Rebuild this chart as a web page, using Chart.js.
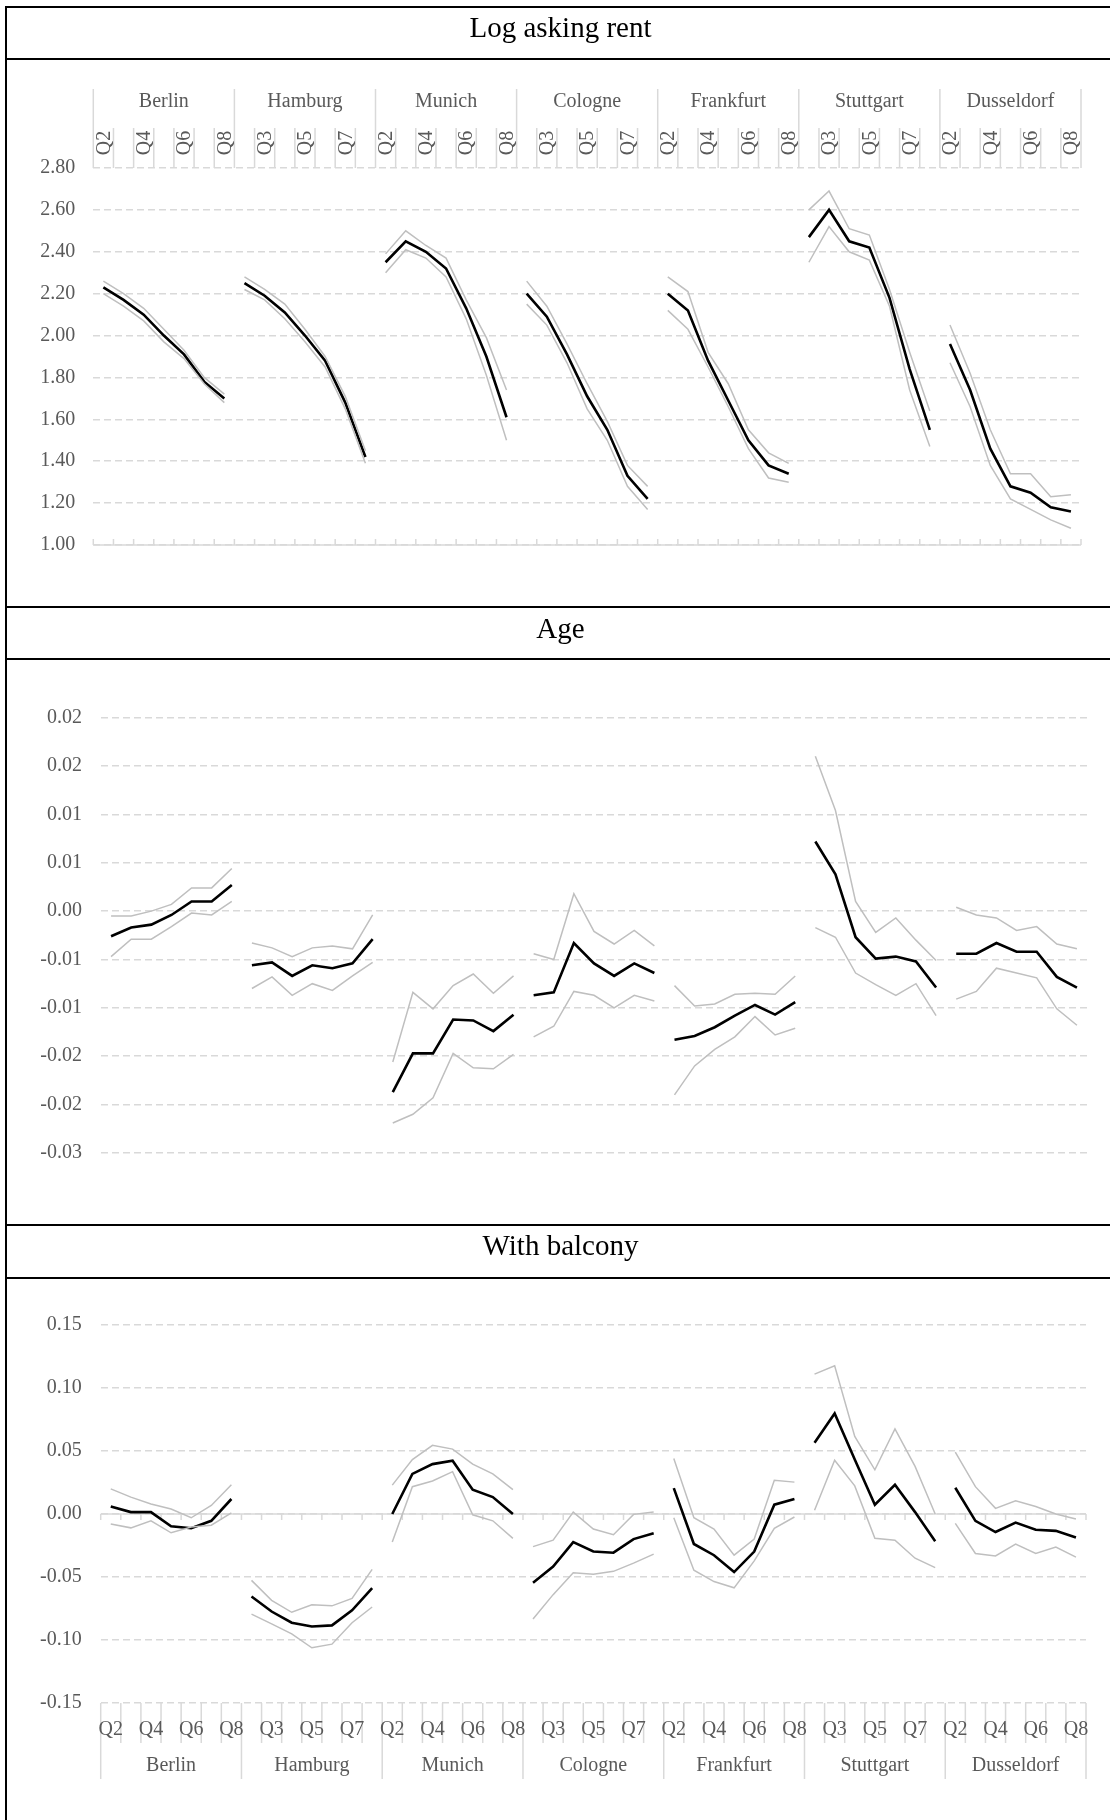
<!DOCTYPE html>
<html lang="en">
  <head>
    <meta charset="UTF-8" />
    <title>Log asking rent, Age, With balcony</title>
    <script src="https://cdn.jsdelivr.net/npm/chart.js"></script>
    <style>
      body{margin:0;background:#fff;font-family:'Liberation Serif',serif}
      #page{position:relative;width:1110px;height:1820px;overflow:hidden}
      canvas{position:absolute;left:0}
      .hline{position:absolute;left:5px;width:1105px;height:2px;background:#000}
      .vline{position:absolute;left:5px;top:6px;width:2px;height:1814px;background:#000}
      .title{position:absolute;left:6px;width:1109px;text-align:center;font-size:29px;color:#000;line-height:34px}
    </style>
  </head>
  <body>
    <div id="page">
      <canvas id="rentChart" width="1110" height="546" style="top:60px"></canvas>
      <canvas id="ageChart" width="1110" height="564" style="top:660px"></canvas>
      <canvas id="balcChart" width="1110" height="541" style="top:1279px"></canvas>

      <!-- table frame -->
      <div class="vline"></div>
      <div class="hline" style="top:6px"></div>
      <div class="hline" style="top:58px"></div>
      <div class="hline" style="top:606px"></div>
      <div class="hline" style="top:658px"></div>
      <div class="hline" style="top:1224px"></div>
      <div class="hline" style="top:1277px"></div>
      <div class="title" style="top:10px">Log asking rent</div>
      <div class="title" style="top:611px">Age</div>
      <div class="title" style="top:1228px">With balcony</div>
    </div>

    <script>
      const cities = ['Berlin', 'Hamburg', 'Munich', 'Cologne', 'Frankfurt', 'Stuttgart', 'Dusseldorf'];
      const quarters = ['Q2', 'Q3', 'Q4', 'Q5', 'Q6', 'Q7', 'Q8'];

      // Log asking rent (estimate, upper, lower) - 7 quarters per city
      const rentMid = [
        2.23, 2.17, 2.10, 2.00, 1.91, 1.78, 1.70,
        2.25, 2.19, 2.11, 2.00, 1.88, 1.68, 1.42,
        2.35, 2.45, 2.40, 2.32, 2.13, 1.90, 1.61,
        2.20, 2.09, 1.91, 1.71, 1.55, 1.33, 1.22,
        2.20, 2.12, 1.88, 1.69, 1.50, 1.38, 1.34,
        2.47, 2.60, 2.45, 2.42, 2.18, 1.84, 1.55,
        1.96, 1.74, 1.46, 1.28, 1.25, 1.18, 1.16
      ];
      const rentHi = [
        2.26, 2.20, 2.13, 2.03, 1.93, 1.80, 1.72,
        2.28, 2.22, 2.15, 2.03, 1.90, 1.71, 1.45,
        2.39, 2.50, 2.43, 2.37, 2.17, 1.99, 1.74,
        2.26, 2.14, 1.96, 1.77, 1.59, 1.38, 1.28,
        2.28, 2.21, 1.92, 1.77, 1.55, 1.44, 1.39,
        2.60, 2.69, 2.51, 2.48, 2.22, 1.92, 1.64,
        2.05, 1.82, 1.55, 1.34, 1.34, 1.23, 1.24
      ];
      const rentLo = [
        2.20, 2.14, 2.07, 1.97, 1.89, 1.77, 1.68,
        2.22, 2.17, 2.08, 1.97, 1.85, 1.65, 1.39,
        2.30, 2.41, 2.37, 2.28, 2.08, 1.81, 1.50,
        2.15, 2.05, 1.87, 1.65, 1.50, 1.28, 1.17,
        2.12, 2.03, 1.85, 1.66, 1.46, 1.32, 1.30,
        2.35, 2.52, 2.40, 2.36, 2.14, 1.74, 1.47,
        1.87, 1.66, 1.38, 1.22, 1.17, 1.12, 1.08
      ];

      // Age
      const ageMid = [
        -0.0026, -0.0017, -0.0014, -0.0004, 0.0010, 0.0010, 0.0027,
        -0.0056, -0.0053, -0.0067, -0.0056, -0.0059, -0.0054, -0.0029,
        -0.0187, -0.0147, -0.0147, -0.0112, -0.0113, -0.0124, -0.0107,
        -0.0087, -0.0084, -0.0033, -0.0054, -0.0067, -0.0054, -0.0064,
        -0.0133, -0.0129, -0.0120, -0.0108, -0.0097, -0.0107, -0.0094,
        0.0072, 0.0038, -0.0027, -0.0049, -0.0047, -0.0052, -0.0079,
        -0.0044, -0.0044, -0.0033, -0.0042, -0.0042, -0.0068, -0.0079
      ];
      const ageHi = [
        -0.0005, -0.0005, 0.0000, 0.0007, 0.0024, 0.0024, 0.0044,
        -0.0033, -0.0038, -0.0047, -0.0038, -0.0036, -0.0039, -0.0004,
        -0.0156, -0.0084, -0.0101, -0.0077, -0.0065, -0.0085, -0.0067,
        -0.0044, -0.0050, 0.0018, -0.0021, -0.0034, -0.0020, -0.0036,
        -0.0077, -0.0098, -0.0096, -0.0086, -0.0085, -0.0086, -0.0067,
        0.0160, 0.0104, 0.0010, -0.0022, -0.0007, -0.0030, -0.0051,
        0.0004, -0.0004, -0.0007, -0.0020, -0.0016, -0.0034, -0.0039
      ];
      const ageLo = [
        -0.0047, -0.0029, -0.0029, -0.0016, -0.0002, -0.0004, 0.0010,
        -0.0080, -0.0068, -0.0087, -0.0075, -0.0082, -0.0067, -0.0053,
        -0.0219, -0.0210, -0.0193, -0.0147, -0.0162, -0.0163, -0.0148,
        -0.0130, -0.0119, -0.0083, -0.0087, -0.0100, -0.0087, -0.0093,
        -0.0190, -0.0160, -0.0143, -0.0130, -0.0109, -0.0128, -0.0121,
        -0.0017, -0.0027, -0.0064, -0.0076, -0.0087, -0.0075, -0.0108,
        -0.0091, -0.0083, -0.0059, -0.0064, -0.0069, -0.0101, -0.0118
      ];

      // With balcony
      const balcMid = [
        0.0060, 0.0015, 0.0015, -0.0098, -0.0113, -0.0054, 0.0119,
        -0.0655, -0.0774, -0.0863, -0.0893, -0.0884, -0.0765, -0.0589,
        0.0000, 0.0318, 0.0396, 0.0423, 0.0193, 0.0134, 0.0000,
        -0.0545, -0.0417, -0.0223, -0.0298, -0.0307, -0.0199, -0.0152,
        0.0205, -0.0238, -0.0327, -0.0461, -0.0298, 0.0074, 0.0119,
        0.0565, 0.0798, 0.0432, 0.0074, 0.0232, 0.0015, -0.0217,
        0.0208, -0.0054, -0.0143, -0.0068, -0.0125, -0.0134, -0.0187
      ];
      const balcHi = [
        0.0199, 0.0134, 0.0080, 0.0039, -0.0030, 0.0068, 0.0232,
        -0.0527, -0.0685, -0.0780, -0.0720, -0.0729, -0.0670, -0.0440,
        0.0229, 0.0432, 0.0545, 0.0515, 0.0396, 0.0318, 0.0193,
        -0.0259, -0.0208, 0.0015, -0.0119, -0.0164, -0.0003, 0.0015,
        0.0440, -0.0030, -0.0119, -0.0327, -0.0199, 0.0268, 0.0253,
        0.1110, 0.1176, 0.0616, 0.0351, 0.0676, 0.0378, 0.0000,
        0.0491, 0.0217, 0.0045, 0.0104, 0.0060, 0.0000, -0.0039
      ];
      const balcLo = [
        -0.0080, -0.0110, -0.0054, -0.0149, -0.0104, -0.0089, 0.0009,
        -0.0795, -0.0872, -0.0952, -0.1062, -0.1033, -0.0863, -0.0738,
        -0.0223, 0.0217, 0.0262, 0.0336, -0.0006, -0.0054, -0.0193,
        -0.0833, -0.0640, -0.0467, -0.0479, -0.0455, -0.0390, -0.0318,
        -0.0030, -0.0446, -0.0536, -0.0586, -0.0372, -0.0113, -0.0024,
        0.0030, 0.0426, 0.0223, -0.0193, -0.0208, -0.0351, -0.0426,
        -0.0074, -0.0313, -0.0333, -0.0238, -0.0313, -0.0262, -0.0342
      ];

      const labels = cities.flatMap(() => quarters);
      const GRID = '#D9D9D9', TXT = '#595959', FONT = 'Liberation Serif';

      // excel style rounding: 0.015 -> 0.02, -0.005 -> -0.01
      const fmt2 = v => {
        const a = Math.round(Math.abs(v) * 100 + 1e-6) / 100;
        return (v < 0 && a > 0 ? '-' : '') + a.toFixed(2);
      };

      // draws the category axis line, the quarter / city label boxes
      const groupAxis = {
        id: 'groupAxis',
        beforeDatasetsDraw(chart, args, o) {
          const { ctx } = chart, xs = chart.scales.x, ys = chart.scales.y;
          const w = xs.getPixelForValue(1) - xs.getPixelForValue(0);
          const edge = k => xs.getPixelForValue(0) - w / 2 + k * w;
          const line = (x1, y1, x2, y2) => { ctx.beginPath(); ctx.moveTo(x1, y1); ctx.lineTo(x2, y2); ctx.stroke(); };
          ctx.save();
          ctx.strokeStyle = GRID;
          ctx.lineWidth = 1.5;
          if (o.axisAt !== undefined) {
            const y = ys.getPixelForValue(o.axisAt);
            line(edge(0), y, edge(labels.length), y);
            for (let k = 0; k <= labels.length; k++) line(edge(k), y, edge(k), y + o.tickDir * 6);
          }
          if (o.side) {
            const top = o.side === 'top';
            const y0 = top ? ys.top : ys.bottom, dir = top ? -1 : 1;
            for (let k = 0; k <= labels.length; k++) {
              line(edge(k), y0, edge(k), y0 + dir * (k % 7 === 0 ? o.groupLen : o.boxLen));
            }
            ctx.fillStyle = TXT;
            ctx.font = '20px "' + FONT + '"';
            ctx.textAlign = 'center';
            ctx.textBaseline = 'middle';
            labels.forEach((q, i) => {
              if (i % 2) return;
              const x = xs.getPixelForValue(i);
              if (top) {
                ctx.save();
                ctx.translate(x + 1, y0 - o.qOff);
                ctx.rotate(-Math.PI / 2);
                ctx.fillText(q, 0, 0);
                ctx.restore();
              } else {
                ctx.fillText(q, x, y0 + o.qOff);
              }
            });
            cities.forEach((c, g) => ctx.fillText(c, (edge(g * 7) + edge(g * 7 + 7)) / 2, y0 + dir * o.cityOff));
          }
          ctx.restore();
        }
      };

      const gap = ctx => ctx.p0DataIndex % 7 === 6 ? 'rgba(0,0,0,0)' : undefined;
      const sets = (hi, lo, mid) => [
        { data: hi, borderColor: '#BFBFBF', borderWidth: 1.5 },
        { data: lo, borderColor: '#BFBFBF', borderWidth: 1.5 },
        { data: mid, borderColor: '#000000', borderWidth: 2.6 }
      ].map(d => ({ ...d, pointRadius: 0, tension: 0, fill: false, segment: { borderColor: gap } }));

      function makeChart(id, hi, lo, mid, y, pad, axisW, ticksPad, groupOpts) {
        return new Chart(document.getElementById(id), {
          type: 'line',
          data: { labels, datasets: sets(hi, lo, mid) },
          options: {
            responsive: false,
            animation: false,
            devicePixelRatio: 1,
            layout: { padding: pad },
            plugins: { legend: { display: false }, tooltip: { enabled: false }, groupAxis: groupOpts },
            scales: {
              x: { display: false, offset: true },
              y: {
                min: y.min, max: y.max,
                afterFit: s => { s.width = axisW; },
                grid: { color: GRID, lineWidth: 1.5, drawTicks: false },
                border: { display: false, dash: [7, 4] },
                ticks: { stepSize: y.step, padding: ticksPad, color: TXT, font: { family: FONT, size: 20 }, callback: fmt2 }
              }
            }
          },
          plugins: [groupAxis]
        });
      }

      makeChart('rentChart', rentHi, rentLo, rentMid, { min: 1.0, max: 2.8, step: 0.2 },
        { left: 0, right: 29, top: 108, bottom: 61 }, 93.3, 18,
        { axisAt: 1.0, tickDir: -1, side: 'top', boxLen: 40, groupLen: 79, qOff: 25, cityOff: 66 });

      makeChart('ageChart', ageHi, ageLo, ageMid, { min: -0.025, max: 0.02, step: 0.005 },
        { left: 0, right: 23, top: 57.6, bottom: 71 }, 101, 19, {});

      makeChart('balcChart', balcHi, balcLo, balcMid, { min: -0.15, max: 0.15, step: 0.05 },
        { left: 0, right: 24, top: 46, bottom: 117 }, 100.7, 19,
        { axisAt: 0, tickDir: 1, side: 'bottom', boxLen: 40, groupLen: 76, qOff: 27, cityOff: 63 });
    </script>
  </body>
</html>
